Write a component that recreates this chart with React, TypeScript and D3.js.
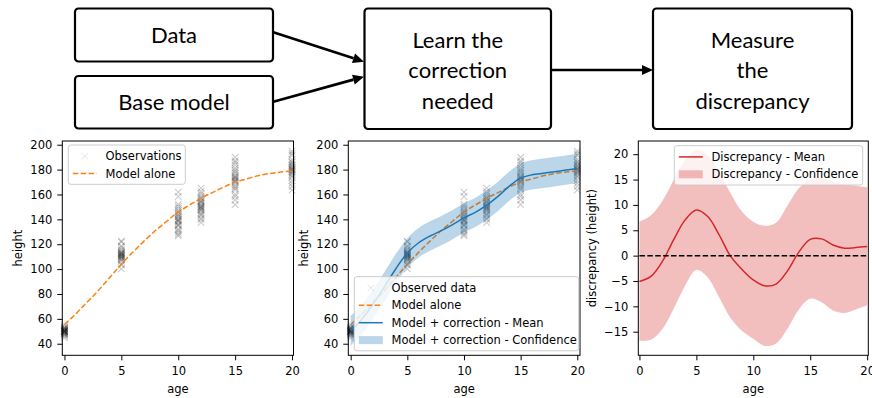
import { useEffect, useRef } from 'react';
import * as d3 from 'd3';

// ---- data ----
const lineAges = [0, 1, 2, 3, 4, 5, 6, 7, 8, 9, 10, 11, 12, 13, 14, 15, 16, 17, 18, 19, 20];
const modelAlone = [55.5, 64, 73.5, 83, 93.5, 104, 113.5, 122.5, 131, 138.5, 146, 151.5, 157, 161.5, 166, 170, 172.5, 175, 176.8, 178, 179];
const correctedMean = [50.4, 59.9, 72.3, 86.1, 100.5, 113, 121.2, 126.6, 130.9, 135.8, 141.2, 145.6, 151.4, 158.5, 166.7, 173.2, 175.8, 177.1, 178.3, 179.6, 180.8];
const correctedUpper = [62.2, 71.7, 84.1, 97.9, 112.3, 124.8, 133.0, 138.4, 142.7, 147.6, 153.0, 157.4, 163.2, 170.3, 178.5, 185.0, 187.6, 188.9, 190.1, 191.4, 192.6];
const correctedLower = [38.6, 48.1, 60.5, 74.3, 88.7, 101.2, 109.4, 114.8, 119.1, 124.0, 129.4, 133.8, 139.6, 146.7, 154.9, 161.4, 164.0, 165.3, 166.5, 167.8, 169.0];
const discMean = [-5.1, -4.1, -1.2, 3.1, 7.0, 9.0, 7.7, 4.1, -0.1, -2.7, -4.8, -5.95, -5.6, -3.0, 0.7, 3.2, 3.3, 2.1, 1.45, 1.6, 1.8];
const discUpper = [6.7, 7.9, 10.7, 14.9, 18.8, 20.8, 19.8, 16.5, 12.3, 8.7, 6.7, 5.9, 6.5, 9.9, 13.3, 15.0, 15.3, 14.6, 14.0, 13.8, 13.5];
const discLower = [-16.8, -16.6, -14.5, -10.5, -6.0, -2.8, -4.3, -8.2, -12.3, -14.8, -16.4, -17.8, -17.3, -14.4, -10.6, -8.5, -9.2, -10.8, -11.3, -10.6, -9.8];

const obsAges = [0, 5, 10, 12, 15, 20];
const obsHeights = [
  [50.2, 48.1, 51.7, 46.9, 53.0, 49.5, 50.8, 47.6, 52.3, 44.8, 55.1, 49.9, 51.1, 48.7, 50.4, 53.8, 46.2, 51.9, 49.2, 50.6, 47.9, 52.7, 49.6, 50.0],
  [111.2, 107.5, 114.8, 109.3, 117.6, 104.1, 112.5, 110.1, 121.9, 100.2, 113.7, 108.6, 111.8, 115.9, 106.3, 112.9, 109.8, 118.7, 103.2, 110.6, 113.1, 107.9, 111.5, 122.5],
  [140.3, 134.8, 146.9, 129.5, 152.1, 137.7, 143.6, 126.8, 158.4, 139.1, 132.2, 148.6, 141.8, 136.0, 161.9, 144.5, 131.1, 139.9, 150.3, 127.9, 142.6, 135.4, 145.8, 138.5],
  [150.7, 145.2, 156.8, 141.0, 162.4, 148.3, 153.9, 137.5, 165.1, 151.6, 144.0, 158.9, 149.6, 139.8, 155.2, 152.7, 146.8, 160.6, 143.1, 150.1, 154.4, 147.5, 157.3, 149.0],
  [171.8, 165.0, 178.3, 160.2, 185.7, 169.4, 175.1, 155.6, 189.9, 172.9, 163.7, 181.2, 170.3, 158.4, 176.9, 173.6, 167.5, 183.8, 151.8, 171.0, 174.4, 166.2, 179.6, 187.1],
  [180.4, 175.1, 186.2, 171.3, 191.5, 178.6, 182.9, 166.4, 194.8, 179.7, 173.9, 188.0, 181.1, 169.0, 184.4, 177.3, 183.5, 163.5, 192.9, 180.0, 176.4, 185.7, 178.1, 181.9],
];

const xTicks = [0, 5, 10, 15, 20];
const heightTicks = [40, 60, 80, 100, 120, 140, 160, 180, 200];
const discTicks = [-15, -10, -5, 0, 5, 10, 15, 20];

const boxLabels = [['Data'], ['Base model'], ['Learn the', 'correction', 'needed'], ['Measure', 'the', 'discrepancy']];

// ---- layout ----
const FONT = 'DejaVu Sans';
const FS = 11.5;
const ORANGE = '#ff7f0e';
const BLUE = '#1f77b4';
const RED = '#d62728';
const TOP = 141;
const BOTTOM = 355.3;

const boxRects = [
  { x: 75, y: 8.5, w: 198, h: 53 },
  { x: 75, y: 76, w: 198, h: 52.5 },
  { x: 364.5, y: 8.5, w: 186.5, h: 120.5 },
  { x: 653, y: 8.5, w: 199, h: 120.5 },
];

function arrow(g, x1, y1, x2, y2) {
  const len = 11;
  const half = 5;
  const dx = x2 - x1;
  const dy = y2 - y1;
  const d = Math.hypot(dx, dy);
  const ux = dx / d;
  const uy = dy / d;
  const bx = x2 - ux * len;
  const by = y2 - uy * len;
  g.append('line')
    .attr('x1', x1).attr('y1', y1).attr('x2', bx).attr('y2', by)
    .attr('stroke', '#000').attr('stroke-width', 2.6);
  g.append('path')
    .attr('d', `M${x2},${y2}L${bx - uy * half},${by + ux * half}L${bx + uy * half},${by - ux * half}Z`)
    .attr('fill', '#000');
}

function drawDiagram(svg) {
  const g = svg.append('g');
  boxRects.forEach((r, i) => {
    g.append('rect')
      .attr('x', r.x).attr('y', r.y).attr('width', r.w).attr('height', r.h)
      .attr('rx', 3.5)
      .attr('fill', '#fff').attr('stroke', '#000').attr('stroke-width', 2.2);
    const lines = boxLabels[i];
    const step = 30.5;
    const cy = lines.length === 1 ? r.y + r.h / 2 + 0.5 : r.y + r.h / 2 + 1.8;
    lines.forEach((t, j) => {
      g.append('text')
        .attr('x', r.x + r.w / 2)
        .attr('y', cy + (j - (lines.length - 1) / 2) * step)
        .attr('dy', '0.35em')
        .attr('text-anchor', 'middle')
        .style('font-family', 'Lato')
        .style('font-size', '22px')
        .attr('fill', '#000')
        .text(t);
    });
  });
  arrow(g, 273.3, 32.3, 364, 61.7);
  arrow(g, 273.3, 101.7, 364, 76.7);
  arrow(g, 551, 70, 653, 70);
}

function makePanel(svg, left, right, xDomain, yDomain, yTicks, yLabel, yLabelX) {
  const x = d3.scaleLinear().domain(xDomain).range([left, right]);
  const y = d3.scaleLinear().domain(yDomain).range([BOTTOM, TOP]);

  const gx = svg.append('g')
    .attr('transform', `translate(0,${BOTTOM})`)
    .call(d3.axisBottom(x).tickValues(xTicks).tickSize(5).tickPadding(6.5).tickFormat(d3.format('d')));
  const gy = svg.append('g')
    .attr('transform', `translate(${left},0)`)
    .call(d3.axisLeft(y).tickValues(yTicks).tickSize(5).tickPadding(5).tickFormat(d3.format('d')));
  [gx, gy].forEach(ax => {
    ax.select('.domain').remove();
    ax.selectAll('line').attr('stroke', '#000').attr('stroke-width', 1);
    ax.selectAll('text').attr('fill', '#000').style('font-family', FONT).style('font-size', `${FS}px`);
  });

  svg.append('text')
    .attr('x', (left + right) / 2)
    .attr('y', 393)
    .attr('text-anchor', 'middle')
    .style('font-family', FONT).style('font-size', `${FS}px`)
    .text('age');
  svg.append('text')
    .attr('transform', `translate(${yLabelX},${(TOP + BOTTOM) / 2}) rotate(-90)`)
    .attr('dy', '0.35em')
    .attr('text-anchor', 'middle')
    .style('font-family', FONT).style('font-size', `${FS}px`)
    .text(yLabel);

  const plot = svg.append('g');
  const frame = () => svg.append('rect')
    .attr('x', left).attr('y', TOP).attr('width', right - left).attr('height', BOTTOM - TOP)
    .attr('fill', 'none').attr('stroke', '#000').attr('stroke-width', 1);
  return { x, y, plot, frame };
}

const xMark = 'M-3.3,-3.3L3.3,3.3M-3.3,3.3L3.3,-3.3';

function drawObs(g, x, y) {
  obsAges.forEach((a, i) => {
    obsHeights[i].forEach(h => {
      g.append('path')
        .attr('d', xMark)
        .attr('transform', `translate(${x(a)},${y(h)})`)
        .attr('stroke', '#000').attr('stroke-width', 1.1).attr('fill', 'none')
        .attr('opacity', 0.2);
    });
  });
}

function legend(svg, bx, by, bw, items) {
  const rowH = 17.4;
  const bh = items.length * rowH + 4.5;
  const g = svg.append('g');
  g.append('rect')
    .attr('x', bx).attr('y', by).attr('width', bw).attr('height', bh)
    .attr('rx', 2.5)
    .attr('fill', 'rgba(255,255,255,0.8)').attr('stroke', '#cccccc').attr('stroke-width', 1);
  items.forEach((it, i) => {
    const cy = by + 11.2 + i * rowH;
    const hx = bx + 4.5;
    if (it.type === 'marker') {
      g.append('path').attr('d', xMark).attr('transform', `translate(${hx + 12},${cy})`)
        .attr('stroke', '#000').attr('opacity', 0.1).attr('fill', 'none');
    } else if (it.type === 'patch') {
      g.append('rect').attr('x', hx).attr('y', cy - 4).attr('width', 24).attr('height', 8)
        .attr('fill', it.color).attr('opacity', 0.3);
    } else {
      g.append('line').attr('x1', hx).attr('x2', hx + 24).attr('y1', cy).attr('y2', cy)
        .attr('stroke', it.color).attr('stroke-width', 1.5)
        .attr('stroke-dasharray', it.type === 'dash' ? '5.5,2.4' : null);
    }
    g.append('text')
      .attr('x', bx + 37.2).attr('y', cy).attr('dy', '0.35em')
      .style('font-family', FONT).style('font-size', `${FS}px`)
      .text(it.label);
  });
}

export default function App() {
  const svgRef = useRef<SVGSVGElement>(null);

  useEffect(() => {
    const svg = d3.select(svgRef.current);
    svg.selectAll('*').remove();

    drawDiagram(svg);

    const line = (x, y) => d3.line<number>()
      .x((_, i) => x(lineAges[i]))
      .y(d => y(d))
      .curve(d3.curveCatmullRom.alpha(0.5));
    const band = (x, y, lo, hi) => d3.area<number>()
      .x((_, i) => x(lineAges[i]))
      .y0((_, i) => y(lo[i]))
      .y1(d => y(d))
      .curve(d3.curveCatmullRom.alpha(0.5))(hi);

    // panel 1: observations and model alone
    const p1 = makePanel(svg, 62.3, 293.5, [-0.19, 20.13], [30.7, 203], heightTicks, 'height', 17.5);
    drawObs(p1.plot, p1.x, p1.y);
    p1.plot.append('path')
      .attr('d', line(p1.x, p1.y)(modelAlone))
      .attr('fill', 'none').attr('stroke', ORANGE).attr('stroke-width', 1.5)
      .attr('stroke-dasharray', '5.5,2.4');
    p1.frame();
    legend(svg, 68.3, 145, 117, [
      { type: 'marker', label: 'Observations' },
      { type: 'dash', color: ORANGE, label: 'Model alone' },
    ]);

    // panel 2: model + correction
    const p2 = makePanel(svg, 348.3, 580, [-0.21, 20.24], [30.7, 203], heightTicks, 'height', 303.5);
    drawObs(p2.plot, p2.x, p2.y);
    p2.plot.append('path')
      .attr('d', line(p2.x, p2.y)(modelAlone))
      .attr('fill', 'none').attr('stroke', ORANGE).attr('stroke-width', 1.5)
      .attr('stroke-dasharray', '5.5,2.4');
    p2.plot.append('path')
      .attr('d', line(p2.x, p2.y)(correctedMean))
      .attr('fill', 'none').attr('stroke', BLUE).attr('stroke-width', 1.5);
    p2.plot.append('path')
      .attr('d', band(p2.x, p2.y, correctedLower, correctedUpper))
      .attr('fill', BLUE).attr('opacity', 0.3);
    p2.frame();
    legend(svg, 354.3, 276.7, 224.4, [
      { type: 'marker', label: 'Observed data' },
      { type: 'dash', color: ORANGE, label: 'Model alone' },
      { type: 'line', color: BLUE, label: 'Model + correction - Mean' },
      { type: 'patch', color: BLUE, label: 'Model + correction - Confidence' },
    ]);

    // panel 3: discrepancy
    const p3 = makePanel(svg, 638.3, 868.3, [-0.1, 20.1], [-19.65, 22.6], discTicks, 'discrepancy (height)', 591.5);
    p3.plot.append('path')
      .attr('d', band(p3.x, p3.y, discLower, discUpper))
      .attr('fill', RED).attr('opacity', 0.3);
    p3.plot.append('path')
      .attr('d', line(p3.x, p3.y)(discMean))
      .attr('fill', 'none').attr('stroke', RED).attr('stroke-width', 1.5);
    p3.plot.append('line')
      .attr('x1', p3.x(0)).attr('x2', p3.x(20)).attr('y1', p3.y(0)).attr('y2', p3.y(0))
      .attr('stroke', '#000').attr('stroke-width', 1.5).attr('stroke-dasharray', '5.5,2.4');
    p3.frame();
    legend(svg, 674.3, 145.7, 188.4, [
      { type: 'line', color: RED, label: 'Discrepancy - Mean' },
      { type: 'patch', color: RED, label: 'Discrepancy - Confidence' },
    ]);
  }, []);

  return (
    <div style={{ position: 'absolute', left: 0, top: 0 }}>
      <svg ref={svgRef} width={872} height={398}></svg>
    </div>
  );
}
